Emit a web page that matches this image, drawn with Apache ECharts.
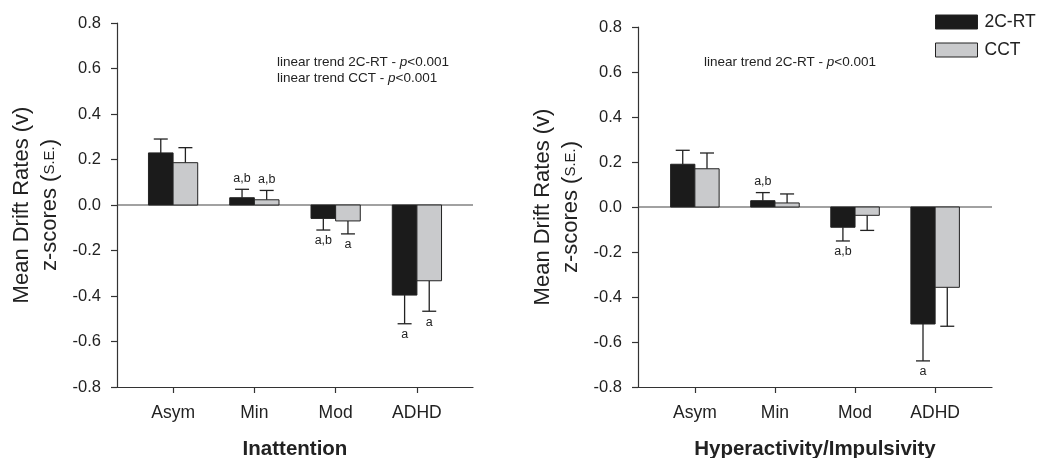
<!DOCTYPE html>
<html><head><meta charset="utf-8">
<script src="https://cdn.jsdelivr.net/npm/echarts@6/dist/echarts.min.js"></script>
<style>html,body{margin:0;padding:0;background:#fff}#c{width:1040px;height:458px}</style>
</head><body><div id="c"></div>
<script>
// ---- data ----
const categories = ['Asym', 'Min', 'Mod', 'ADHD'];
const yTicks = [-0.8, -0.6, -0.4, -0.2, 0.0, 0.2, 0.4, 0.6, 0.8];
const seriesNames = ['2C-RT', 'CCT'];
// Inattention panel
const inatt2CRT = [0.229, 0.032, -0.059, -0.396];
const inatt2CRTse = [0.061, 0.037, 0.051, 0.126];
const inattCCT = [0.186, 0.023, -0.070, -0.333];
const inattCCTse = [0.066, 0.041, 0.057, 0.134];
const inatt2CRTletters = ['', 'a,b', 'a,b', 'a'];
const inattCCTletters = ['', 'a,b', 'a', 'a'];
// Hyperactivity/Impulsivity panel
const hyper2CRT = [0.190, 0.028, -0.090, -0.520];
const hyper2CRTse = [0.062, 0.036, 0.061, 0.164];
const hyperCCT = [0.170, 0.018, -0.037, -0.357];
const hyperCCTse = [0.070, 0.040, 0.067, 0.173];
const hyper2CRTletters = ['', 'a,b', 'a,b', 'a'];
const hyperCCTletters = ['', '', '', ''];
const panelTitles = ['Inattention', 'Hyperactivity/Impulsivity'];

// ---- style ----
const BLACK = '#1b1b1b', GRAY = '#c9cacc', AX = '#333';
const FONT = 'Liberation Sans, Arial, Helvetica, sans-serif';

function rows(vals, ses) { return vals.map((v, i) => [i, v, ses[i]]); }

function makeRender(side, letters, fill) {
  return function (params, api) {
    const x = api.value(0), v = api.value(1), se = api.value(2);
    const band = api.size([1, 0])[0];
    const w = band * 0.303;
    const base = api.coord([x, 0]);
    const top = api.coord([x, v]);
    const dir = v >= 0 ? 1 : -1;
    const err = api.coord([x, v + dir * se]);
    const left = side < 0 ? base[0] - w : base[0];
    const cx = left + w / 2;
    const children = [
      { type: 'line', shape: { x1: cx, y1: top[1], x2: cx, y2: err[1] }, style: { stroke: '#222', lineWidth: 1.3 } },
      { type: 'line', shape: { x1: cx - 7, y1: err[1], x2: cx + 7, y2: err[1] }, style: { stroke: '#222', lineWidth: 1.3 } },
      { type: 'rect', shape: { x: left, y: Math.min(base[1], top[1]), width: w, height: Math.abs(base[1] - top[1]) },
        style: { fill: fill, stroke: '#222', lineWidth: 1 } }
    ];
    const lt = letters[params.dataIndex];
    if (lt) {
      children.push({ type: 'text', style: { text: lt, x: cx, y: err[1] - dir * 11, align: 'center', verticalAlign: 'middle',
        fill: '#222', font: '12.5px ' + FONT } });
    }
    return { type: 'group', children: children };
  };
}

const xRanges = [[-0.69, 3.69], [-0.71, 3.71]];
const grids = [
  { left: 117, right: 567, top: 23, bottom: 71, outerBoundsMode: 'none', containLabel: false },
  { left: 638, right: 48, top: 27, bottom: 71, outerBoundsMode: 'none', containLabel: false }
];

function yAxisFor(i) {
  return {
    type: 'value', gridIndex: i, min: -0.8, max: 0.8, interval: 0.2,
    axisLine: { show: true, onZero: false, lineStyle: { color: AX, width: 1.2 } },
    axisTick: { show: true, length: 6, lineStyle: { color: AX, width: 1.2 } },
    splitLine: { show: false },
    axisLabel: { color: '#222', fontSize: 16.5, fontFamily: FONT, margin: 16, formatter: v => (Math.abs(v) < 1e-9 ? 0 : v).toFixed(1) },
    name: '{a|Mean Drift Rates (v)}\n{b|z-scores (}{c|S.E.}{b|)}',
    nameLocation: 'middle', nameRotate: 90, nameGap: 53,
    nameTextStyle: {
      color: '#222', fontFamily: FONT,
      rich: {
        a: { fontSize: 22, fontFamily: FONT, color: '#222', lineHeight: 28 },
        b: { fontSize: 22, fontFamily: FONT, color: '#222', lineHeight: 28 },
        c: { fontSize: 15, fontFamily: FONT, color: '#222', lineHeight: 28 }
      }
    }
  };
}
function xAxisFor(i) {
  return {
    type: 'value', gridIndex: i, min: xRanges[i][0], max: xRanges[i][1],
    axisLine: { show: true, onZero: false, lineStyle: { color: AX, width: 1.2 } },
    axisTick: { show: true, length: 6, customValues: [0, 1, 2, 3], lineStyle: { color: AX, width: 1.2 } },
    splitLine: { show: false },
    axisLabel: { customValues: [0, 1, 2, 3], formatter: v => categories[Math.round(v)], color: '#222', fontSize: 17.5, fontFamily: FONT, margin: 17 },
    name: panelTitles[i], nameLocation: 'middle', nameGap: 52,
    nameTextStyle: { fontSize: 20.5, fontWeight: 'bold', color: '#222', fontFamily: FONT }
  };
}

const panels = [
  [rows(inatt2CRT, inatt2CRTse), rows(inattCCT, inattCCTse), inatt2CRTletters, inattCCTletters],
  [rows(hyper2CRT, hyper2CRTse), rows(hyperCCT, hyperCCTse), hyper2CRTletters, hyperCCTletters]
];

const series = [];
panels.forEach((p, i) => {
  series.push({
    type: 'line', xAxisIndex: i, yAxisIndex: i, silent: true, symbol: 'none', z: 1,
    data: [[xRanges[i][0], 0], [xRanges[i][1], 0]], lineStyle: { color: '#444', width: 1.2 }
  });
  series.push({ type: 'custom', name: seriesNames[0], xAxisIndex: i, yAxisIndex: i, z: 3, itemStyle: { color: BLACK },
    encode: { x: 0, y: 1 }, data: p[0], renderItem: makeRender(-1, p[2], BLACK) });
  series.push({ type: 'custom', name: seriesNames[1], xAxisIndex: i, yAxisIndex: i, z: 3, itemStyle: { color: GRAY },
    encode: { x: 0, y: 1 }, data: p[1], renderItem: makeRender(1, p[3], GRAY) });
});

const annStyle = (t) => ({
  text: t, x: 0, y: 0, fill: '#222', font: '13.5px ' + FONT,
  rich: { n: { fontSize: 13.5, fontFamily: FONT, fill: '#222' }, i: { fontSize: 13.5, fontFamily: FONT, fontStyle: 'italic', fill: '#222' } }
});

const option = {
  backgroundColor: '#fff',
  animation: false,
  grid: grids,
  xAxis: [xAxisFor(0), xAxisFor(1)],
  yAxis: [yAxisFor(0), yAxisFor(1)],
  legend: {
    orient: 'vertical', left: 930, top: 8, itemWidth: 42, itemHeight: 14, itemGap: 10, icon: 'rect',
    textStyle: { fontSize: 17.5, fontFamily: FONT, color: '#222', padding: [0, 0, 0, 2] },
    data: [
      { name: seriesNames[0], itemStyle: { color: BLACK, borderColor: '#222', borderWidth: 1 } },
      { name: seriesNames[1], itemStyle: { color: GRAY, borderColor: '#222', borderWidth: 1 } }
    ]
  },
  graphic: [
    { type: 'text', left: 277, top: 55, style: annStyle('{n|linear trend 2C-RT - }{i|p}{n|<0.001}') },
    { type: 'text', left: 277, top: 71, style: annStyle('{n|linear trend CCT - }{i|p}{n|<0.001}') },
    { type: 'text', left: 704, top: 55, style: annStyle('{n|linear trend 2C-RT - }{i|p}{n|<0.001}') }
  ],
  series: series
};
const chart = echarts.init(document.getElementById('c'), null, { renderer: 'canvas' });
chart.setOption(option);
</script></body></html>
